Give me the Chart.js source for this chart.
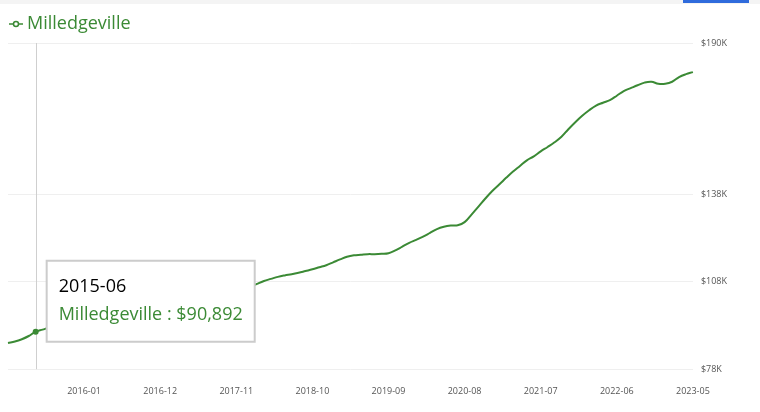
<!DOCTYPE html>
<html><head><meta charset="utf-8">
<script src="https://cdn.jsdelivr.net/npm/chart.js@4.4.1/dist/chart.umd.min.js"></script>
<style>
html,body{margin:0;padding:0;background:#fff;}
#wrap{position:relative;width:760px;height:412px;}
#topband{position:absolute;left:0;top:0;width:760px;height:4px;background:#f4f4f4;}
#blue{position:absolute;left:683px;top:0;width:66px;height:3px;background:#2f6bdc;}
canvas{position:absolute;left:0;top:0;}
</style></head><body>
<div id="wrap"><div id="topband"></div><div id="blue"></div><canvas id="c" width="760" height="412"></canvas></div>
<script>
const seriesName = 'Milledgeville';
const startYear = 2015, startMonth = 2;
const values = [
  87000, 87500, 88300, 89400, 90892, 91600, 92300, 92800, 93400, 93900,
  94500, 95000, 95400, 95900, 96500, 97000, 97400, 97900, 98400, 98800,
  99300, 99900, 100300, 100800, 101200, 101600, 102100, 102600, 103000, 103500,
  103900, 104400, 104900, 105300, 105800, 106200, 107300, 108300, 109000, 109700,
  110200, 110600, 111100, 111700, 112300, 113000, 113700, 114700, 115700, 116600,
  117100, 117300, 117500, 117500, 117600, 117800, 118800, 120100, 121400, 122400,
  123500, 124800, 126100, 126900, 127300, 127400, 128500, 131100, 133800, 136600,
  139200, 141400, 143700, 145900, 147800, 149700, 151100, 152800, 154300, 155900,
  157800, 160400, 162800, 165000, 166900, 168500, 169500, 170400, 171900, 173500,
  174500, 175500, 176400, 176700, 176000, 176000, 176700, 178300, 179300, 180000
];
const yTickValues = [78000, 108000, 138000, 190000];
const xTickLabels = ['2016-01','2016-12','2017-11','2018-10','2019-09','2020-08','2021-07','2022-06','2023-05'];
const activeIndex = 4;

const categories = values.map((_, i) => {
  const m = startMonth - 1 + i;
  return `${startYear + Math.floor(m / 12)}-${String(m % 12 + 1).padStart(2, '0')}`;
});

const green = '#3b8a35';
Chart.defaults.font.family = "'Open Sans', sans-serif";

// legend icon: line with hollow circle
const icon = document.createElement('canvas');
icon.width = 14; icon.height = 8;
(function(){
  const g = icon.getContext('2d');
  g.strokeStyle = green; g.lineWidth = 1.5;
  g.beginPath(); g.moveTo(0, 4); g.lineTo(14, 4); g.stroke();
  g.fillStyle = '#fff';
  g.beginPath(); g.arc(7, 4, 2.5, 0, Math.PI * 2); g.fill(); g.stroke();
})();

Chart.Tooltip.positioners.besidePoint = function(items) {
  if (!items.length) return false;
  const el = items[0].element;
  return { x: el.x + 11, y: el.y - 71, xAlign: 'left', yAlign: 'top' };
};

const crosshair = {
  id: 'crosshair',
  beforeDatasetsDraw(chart) {
    const pt = chart.getDatasetMeta(0).data[activeIndex];
    const a = chart.chartArea;
    const ctx = chart.ctx;
    ctx.save();
    ctx.strokeStyle = '#cfcfcf';
    ctx.lineWidth = 1;
    ctx.beginPath();
    ctx.moveTo(Math.round(pt.x) + 0.5, a.top);
    ctx.lineTo(Math.round(pt.x) + 0.5, a.bottom);
    ctx.stroke();
    ctx.restore();
  }
};

const chart = new Chart(document.getElementById('c'), {
  type: 'line',
  data: {
    labels: categories,
    datasets: [{
      label: seriesName,
      data: values,
      borderColor: green,
      backgroundColor: green,
      borderWidth: 2,
      tension: 0.4,
      fill: false,
      pointRadius: ctx => ctx.dataIndex === activeIndex ? 3 : 0,
      pointBackgroundColor: green,
      pointBorderColor: green,
      pointBorderWidth: 0
    }]
  },
  options: {
    responsive: false,
    animation: false,
    events: [],
    layout: { padding: { left: 0, right: 25, top: 1, bottom: -2 } },
    plugins: {
      legend: {
        position: 'top',
        align: 'start',
        labels: {
          usePointStyle: true,
          pointStyleWidth: 4,
          color: green,
          font: { size: 18 },
          padding: 14,
          generateLabels: () => [{
            text: seriesName, fillStyle: green, strokeStyle: green,
            pointStyle: icon, fontColor: green, lineWidth: 0, datasetIndex: 0, hidden: false
          }]
        }
      },
      tooltip: {
        enabled: true,
        position: 'besidePoint',
        xAlign: 'left', yAlign: 'top',
        caretSize: 0, caretPadding: 0, cornerRadius: 0,
        backgroundColor: '#fff',
        borderColor: '#cccccc', borderWidth: 2,
        titleColor: '#000', bodyColor: green,
        titleFont: { size: 18, weight: 'normal', lineHeight: 1.2 },
        bodyFont: { size: 18, lineHeight: 1.2 },
        titleMarginBottom: 7,
        padding: { top: 15, bottom: 16, left: 12, right: 12 },
        displayColors: false,
        callbacks: {
          title: items => items[0].label,
          label: item => `${seriesName} : $${item.parsed.y.toLocaleString('en-US')}`
        }
      }
    },
    scales: {
      x: {
        offset: false,
        grid: { display: false, drawTicks: false },
        border: { display: false },
        afterFit: s => { s.paddingLeft = 8; },
        ticks: {
          autoSkip: false, maxRotation: 0, padding: 17,
          color: '#555', font: { size: 9 },
          callback: function(v, i) { const l = this.getLabelForValue(v); return xTickLabels.includes(l) ? l : ''; }
        }
      },
      y: {
        position: 'right',
        min: 78000, max: 190000,
        afterBuildTicks: s => { s.ticks = yTickValues.map(v => ({ value: v })); },
        grid: { color: '#efefef', drawTicks: false },
        border: { display: false },
        ticks: {
          padding: 8, color: '#555', font: { size: 9 },
          callback: v => '$' + (v / 1000) + 'K'
        }
      }
    }
  },
  plugins: [crosshair]
});

chart.tooltip.setActiveElements([{ datasetIndex: 0, index: activeIndex }], { x: 0, y: 0 });
chart.update();
</script>
</body></html>
